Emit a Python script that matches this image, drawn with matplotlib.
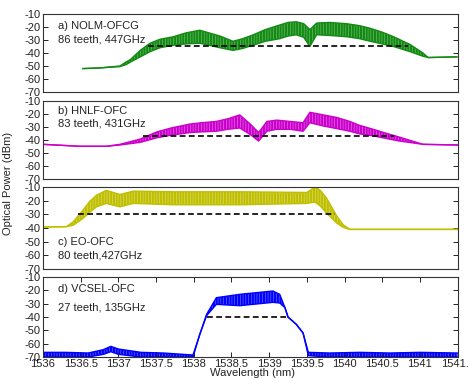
import matplotlib
matplotlib.use("Agg")
import matplotlib.pyplot as plt

plt.rcParams['font.family'] = ['Liberation Sans', 'DejaVu Sans']
plt.rcParams['axes.unicode_minus'] = False
plt.rcParams['hatch.linewidth'] = 0.4

# envelopes (wavelength nm, upper / lower dBm)
wl_a = [1536.53, 1536.75, 1537.02, 1537.10, 1537.16, 1537.29, 1537.42, 1537.55, 1537.73, 1537.90,
        1538.08, 1538.20, 1538.35, 1538.52, 1538.65, 1538.79, 1538.95, 1539.14, 1539.25, 1539.36,
        1539.46, 1539.54, 1539.63, 1539.80, 1540.03, 1540.20, 1540.34, 1540.50, 1540.65, 1540.87,
        1541.04, 1541.11, 1541.49]
up_a = [-52, -51.5, -50, -47, -45, -38, -32.5, -29.5, -27.5, -24.5, -22.5, -24.5, -27, -31, -29,
        -26, -22, -18.5, -16.5, -16, -17.5, -22, -17, -16.5, -17.5, -19, -21, -24, -27.5, -33.5,
        -40, -43.5, -43]
lo_a = [-52, -51.5, -50.5, -49, -47, -43, -39, -36, -34, -33, -32.5, -34, -36, -38, -36.5,
        -34, -31, -29, -27, -26, -28, -35, -26, -26.5, -27.5, -29, -31, -33, -35, -39,
        -42.5, -43.5, -43]

wl_b = [1536.0, 1536.49, 1536.84, 1537.02, 1537.29, 1537.51, 1537.70, 1537.95, 1538.10, 1538.30,
        1538.45, 1538.61, 1538.75, 1538.86, 1538.97, 1539.10, 1539.28, 1539.45, 1539.54, 1539.72,
        1539.90, 1540.07, 1540.20, 1540.38, 1540.55, 1540.73, 1541.04, 1541.5]
up_b = [-43.5, -45, -45, -43.5, -39.5, -34, -31, -28, -27, -26, -24, -21, -28, -34.5, -26, -25,
        -26, -27, -19, -21, -23, -26, -29, -32, -35, -38, -43.5, -44]
lo_b = [-43.5, -45, -45, -44, -42, -38.5, -36.5, -34.5, -34, -33.5, -32, -31, -36, -41, -33.5,
        -32, -32, -33.5, -27, -29.5, -31.5, -33.5, -35.5, -37, -39, -41, -43.5, -44]

wl_c = [1536.0, 1536.31, 1536.40, 1536.53, 1536.62, 1536.71, 1536.84, 1537.02, 1537.20, 1537.73,
        1538.61, 1539.50, 1539.61, 1539.68, 1539.76, 1539.90, 1539.98, 1540.07, 1541.5]
up_c = [-39.3, -39, -35.5, -27, -20.5, -16, -12.5, -15.5, -13, -13.5, -13.5, -14, -10, -12.5,
        -18, -31.5, -37.5, -41, -41]
lo_c = [-39.3, -39, -38, -33, -28.5, -24.5, -22, -24.5, -22, -23, -23, -22, -21, -24,
        -29, -36.5, -39.5, -41, -41]

wl_d = [1536.0, 1536.3, 1536.6, 1536.8, 1536.9, 1537.0, 1537.3, 1537.6, 1537.99, 1538.08, 1538.17,
        1538.30, 1538.61, 1539.05, 1539.14, 1539.21, 1539.25, 1539.36, 1539.45, 1539.52, 1539.8,
        1540.2, 1540.6, 1541.0, 1541.5]
up_d = [-66.5, -66.5, -67, -64.5, -62, -64, -66.5, -67, -68.5, -53, -38, -25.5, -23, -20.5, -23,
        -33, -40, -45.5, -52, -66.5, -67, -66.5, -67, -66.5, -67]
lo_d = [-70, -70, -70, -68, -66, -68, -70, -70, -70, -53, -39, -30.5, -31.5, -29, -29.5, -33, -40,
        -45.5, -52, -69, -70, -70, -70, -70, -70]

# flat-top reference lines: start, end, level
dash_a = (1537.39, 1540.84, -35)
dash_b = (1537.33, 1540.65, -37)
dash_c = (1536.47, 1539.87, -30)
dash_d = (1538.17, 1539.23, -40)

labels = [("a) NOLM-OFCG", "86 teeth, 447GHz", -19.2, -29.5),
          ("b) HNLF-OFC", "83 teeth, 431GHz", -17.8, -27.2),
          ("c) EO-OFC", "80 teeth,427GHz", -50.5, -60.3),
          ("d) VCSEL-OFC", "27 teeth, 135GHz", -19.2, -33)]

colors = ['#138a13', '#cc00cc', '#bfbf00', '#0000ff']
light = ['#7cc47c', '#e680e6', '#e0e080', '#8080ff']

series = [(wl_a, up_a, lo_a, dash_a), (wl_b, up_b, lo_b, dash_b),
          (wl_c, up_c, lo_c, dash_c), (wl_d, up_d, lo_d, dash_d)]

# panel rectangles in figure fractions
rects = [[0.0917, 0.7573, 0.884, 0.2058],
         [0.0917, 0.5277, 0.884, 0.2071],
         [0.0917, 0.2902, 0.884, 0.2164],
         [0.0917, 0.0580, 0.884, 0.2111]]

fig = plt.figure(figsize=(4.69, 3.79), dpi=100)

for i, (wl, up, lo, dsh) in enumerate(series):
    ax = fig.add_axes(rects[i])
    ax.fill_between(wl, lo, up, facecolor=colors[i], edgecolor=light[i], hatch='||||||', linewidth=0)
    ax.plot(wl, up, color=colors[i], lw=1.0)
    ax.plot(wl, lo, color=colors[i], lw=1.0)
    ax.hlines(dsh[2], dsh[0], dsh[1], colors='black', linestyles=(0, (3.5, 2)), lw=1.2, zorder=5)
    t1, t2, y1, y2 = labels[i]
    ax.text(1536.2, y1, t1, fontsize=8, va='center', ha='left', color='#222222')
    ax.text(1536.2, y2, t2, fontsize=8, va='center', ha='left', color='#222222')

    ax.set_xlim(1536, 1541.5)
    ax.set_ylim(-70, -10)
    ax.set_yticks([-10, -20, -30, -40, -50, -60, -70])
    ax.tick_params(axis='y', direction='in', length=3.5, width=0.7, labelsize=8,
                   right=True, pad=1.5, colors='#222222')
    if i < 3:
        ax.set_xticks([])
    else:
        ax.set_xticks([1536 + 0.5 * k for k in range(12)])
        ax.set_xticklabels(['1536', '1536.5', '1537', '1537.5', '1538', '1538.5', '1539',
                            '1539.5', '1540', '1540.5', '1541', '1541.5'])
        ax.tick_params(axis='x', direction='in', length=3.5, width=0.7, labelsize=8,
                       top=True, pad=1.5, colors='#222222')
    for s in ax.spines.values():
        s.set_color('#333333')
        s.set_linewidth(0.8)

fig.text(0.017, 1 - 183 / 379, "Optical Power (dBm)", rotation=90, fontsize=8,
         ha='center', va='center', color='#222222')
fig.text(252 / 469, 1 - 373 / 379, "Wavelength (nm)", fontsize=8,
         ha='center', va='center', color='#222222')

fig.savefig("out.png", dpi=100)
